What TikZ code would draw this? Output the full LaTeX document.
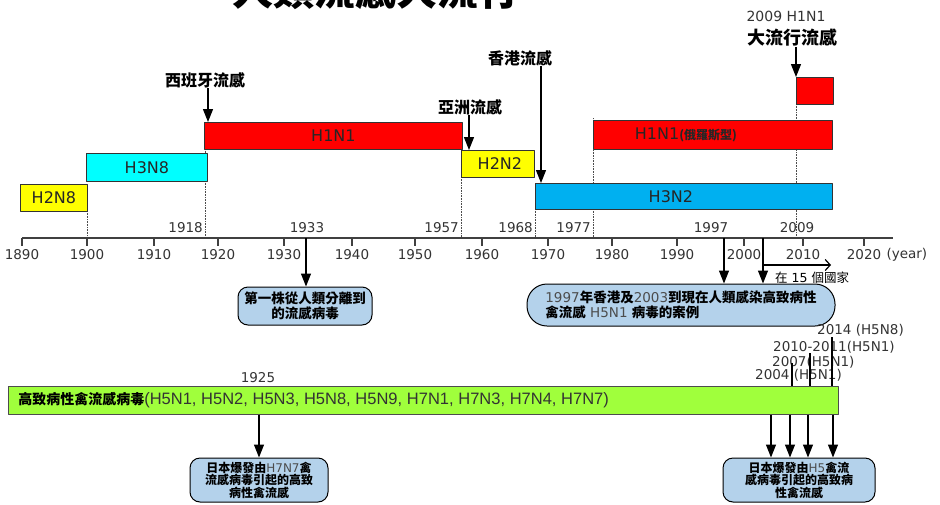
\documentclass[tikz,border=0pt]{standalone}
\usepackage{fontspec}
\setmainfont{DejaVu Sans}
\newfontfamily\cjk{Noto Sans CJK TC}
\newfontfamily\arial{Liberation Sans}
\usetikzlibrary{arrows.meta}
\definecolor{boxblue}{RGB}{180,210,235}
\definecolor{skyblue}{RGB}{0,176,240}
\definecolor{aqua}{RGB}{0,255,255}
\definecolor{flured}{RGB}{255,0,0}
\definecolor{fluyellow}{RGB}{255,255,0}
\definecolor{lime}{RGB}{160,255,60}
\newcommand{\zhb}[1]{{\cjk\bfseries #1}}
\newcommand{\gr}[1]{{\color{black!70}#1}}

\begin{document}
\begin{tikzpicture}[x=1pt, y=-1pt, line join=round, >={Triangle[width=10pt,length=13pt]},
  bar/.style={draw=black!80, line width=0.8pt, anchor=north west, inner sep=0pt,
    font=\fontsize{16}{16}\selectfont, text=black!85},
  cbox/.style={draw=black, line width=1pt, fill=boxblue, rounded corners=10pt,
    align=center, inner sep=0pt},
  yr/.style={font=\fontsize{13.5}{13.5}\selectfont, text=black!80, inner sep=0pt},
  tag/.style={font=\fontsize{16}{16}\selectfont, inner sep=0pt},
  lab/.style={font=\fontsize{13.5}{13.5}\selectfont, text=black!80, inner sep=0pt, anchor=west},
  arr/.style={->, line width=1.2pt},
  guide/.style={densely dotted, black!70, line width=0.6pt}]
\useasboundingbox (0,0) rectangle (940,504);
% title, cut by the top edge
\node[anchor=base, inner sep=0pt, font=\fontsize{41}{41}\selectfont] (title) at (376,5) {\zhb{人類流感大流行}};

% dotted guides behind the bars
\foreach \x/\t in {87/211,205/149,461/177,535/209,593/118,796/104}
  \draw[guide] (\x,\t) -- (\x,238);

% subtype bars
\node[bar, fill=fluyellow, minimum width=67, minimum height=27] (h2n8) at (20,184) {H2N8};
\node[bar, fill=aqua, minimum width=121, minimum height=28] (h3n8) at (86,153) {H3N8};
\node[bar, fill=flured, minimum width=258, minimum height=27] (h1n1) at (204,122) {H1N1};
\node[bar, fill=fluyellow, minimum width=73, minimum height=27] (h2n2) at (461,150) {\hspace*{4pt}H2N2};
\node[bar, fill=skyblue, minimum width=297, minimum height=26] (h3n2) at (535,183) {H3N2\hspace*{26pt}};
\node[bar, fill=flured, minimum width=239, minimum height=29] (h1n1r) at (593,120)
  {H1N1{\fontsize{12}{12}\selectfont\zhb{(俄羅斯型)}}\hspace*{54pt}};
\node[bar, fill=flured, minimum width=37, minimum height=27] (h1n1p) at (796,77) {};

% pandemic names
\node[tag] (spain) at (205,80) {\zhb{西班牙流感}};
\node[tag] (asia) at (470,107) {\zhb{亞洲流感}};
\node[tag] (hk) at (520,58) {\zhb{香港流感}};
\node[inner sep=0pt, font=\fontsize{14}{14}\selectfont, text=black!80] (pand09) at (786,16) {2009 H1N1};
\node[inner sep=0pt, font=\fontsize{18}{18}\selectfont] (pand) at (792,38) {\zhb{大流行流感}};
\draw[arr] ([xshift=4pt]h1n1.north west |- spain.south) -- ([xshift=4pt]h1n1.north west);
\draw[arr] ([xshift=8pt]h2n2.north west |- asia.south) -- ([xshift=8pt]h2n2.north west);
\draw[arr] ([xshift=6pt]h3n2.north west |- hk.south) -- ([xshift=6pt]h3n2.north west);
\draw[arr] (h1n1p.north west |- pand.south) -- (h1n1p.north west);

% time axis
\draw[line width=1.2pt, black!75] (22,238) -- (893,238);
\foreach \y/\x in {1890/22,1900/87,1910/154,1920/218,1930/284,1940/352,1950/415,
    1960/482,1970/548,1980/612,1990/677,2000/744,2010/803,2020/864} {
  \draw[line width=1.2pt, black!75] (\x,238) -- (\x,246);
  \node[yr] (tick\y) at (\x,255) {\y};
}
\node[yr, anchor=west] (unit) at ([xshift=5pt]tick2020.east) {(year)};
\foreach \y/\x in {1918/203,1957/459,1968/533,1977/591}
  \node[yr, anchor=east] (m\y) at (\x,228) {\y};
\node[yr] (m1933) at (307,228) {1933};
\node[yr] (m1997) at (711,228) {1997};
\node[yr] (m2009) at (797,228) {2009};

% events below the axis
\coordinate (t1933) at (306,238);
\coordinate (t1997) at (724,238);
\coordinate (t2003) at (763,238);
\node[cbox, minimum width=134, minimum height=38, font=\fontsize{13.5}{15}\selectfont] (first) at (305,306)
  {\zhb{第一株從人類分離到}\\\zhb{的流感病毒}};
\node[cbox, rounded corners=20pt, align=left, minimum width=308, minimum height=42,
  font=\fontsize{13.5}{15}\selectfont] (h5n1) at (681,305)
  {\gr{1997}\zhb{年香港及}\gr{2003}\zhb{到現在人類感染高致病性}\\\zhb{禽流感} \gr{H5N1} \zhb{病毒的案例}};
\draw[arr] (t1933) -- (t1933 |- first.north);
\draw[arr] (t1997) -- (t1997 |- h5n1.north);
\draw[arr] (t2003) -- (t2003 |- h5n1.north);
\coordinate (spread) at (763,265);
\coordinate (spreadend) at (831,265);
\draw[line width=1.2pt, -{Straight Barb[length=5pt,width=11pt]}] (spread) -- (spreadend);
\node[inner sep=0pt, anchor=west, font=\fontsize{12.5}{12.5}\selectfont] (n15) at (775,278) {{\cjk 在} 15 {\cjk 個國家}};

% avian influenza
\node[yr] (y1925) at (258,378) {1925};
\node[draw=black!70, line width=0.6pt, fill=lime, anchor=north west, minimum height=28,
  text width=810, inner xsep=10pt, inner ysep=0pt, align=left,
  font=\fontsize{14}{16}\selectfont] (hpai) at (8,386)
  {\zhb{高致病性禽流感病毒}{\arial\fontsize{16.5}{16.5}\selectfont\color{black!80}(H5N1, H5N2, H5N3, H5N8, H5N9, H7N1, H7N3, H7N4, H7N7)}};
\node[lab] (l2014) at (817,330) {2014 (H5N8)};
\node[lab] (l2010) at (773,347) {2010-2011(H5N1)};
\node[lab] (l2007) at (772,362) {2007(H5N1)};
\node[lab] (l2004) at (755,375) {2004 (H5N1)};
\foreach \x/\t in {792/363,810/353,832/337}
  \draw[line width=2.6pt] (\x,\t) -- (hpai.north -| \x,0);

\node[cbox, minimum width=138, minimum height=44, font=\fontsize{12}{12.5}\selectfont] (jp7) at (259,480)
  {\zhb{日本爆發由}\gr{H7N7}\zhb{禽}\\\zhb{流感病毒引起的高致}\\\zhb{病性禽流感}};
\node[cbox, minimum width=152, minimum height=44, font=\fontsize{12}{12.5}\selectfont] (jp5) at (799,480)
  {\zhb{日本爆發由}\gr{H5}\zhb{禽流}\\\zhb{感病毒引起的高致病}\\\zhb{性禽流感}};
\draw[arr] (hpai.south -| jp7.north) -- (jp7.north);
\foreach \x in {771,790,808,833}
  \draw[arr] (hpai.south -| \x,0) -- (jp5.north -| \x,0);
\end{tikzpicture}
\end{document}
